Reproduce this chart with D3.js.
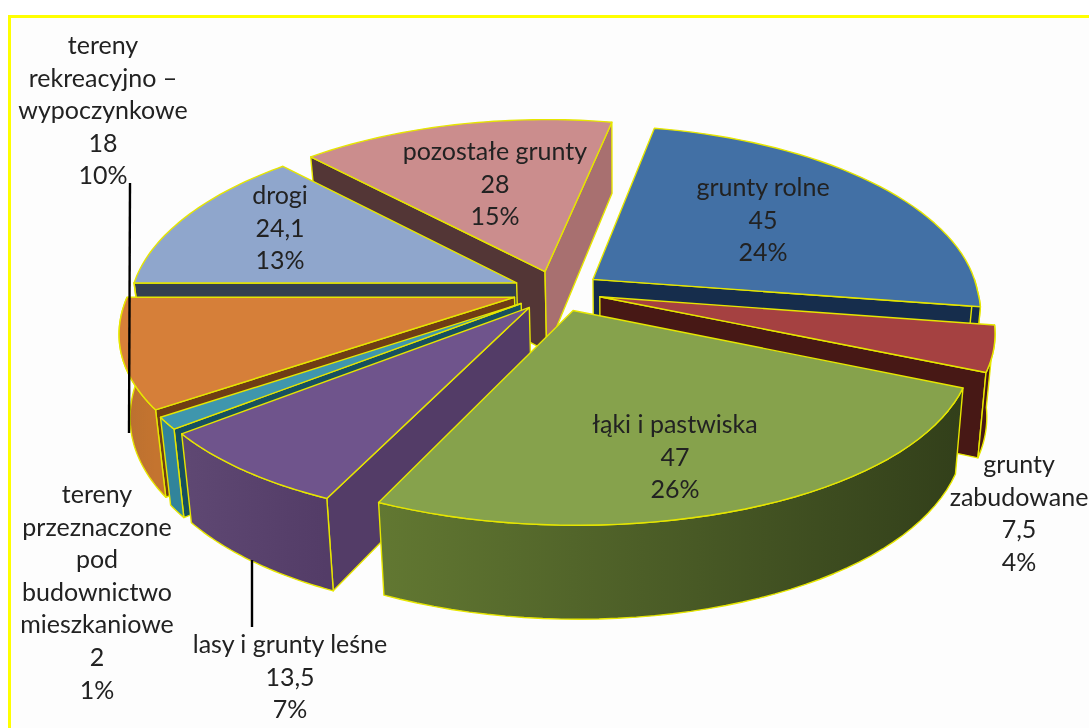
<!DOCTYPE html>
<html>
<head>
<meta charset="utf-8">
<script src="https://cdnjs.cloudflare.com/ajax/libs/d3/7.8.5/d3.min.js"></script>
<style>
  html, body { margin: 0; padding: 0; background: #fff; overflow: hidden; }
  svg { filter: blur(0.45px); }
  text { font-family: Lato, "Open Sans", sans-serif; font-size: 25px; fill: #222; text-anchor: middle; }
</style>
</head>
<body>
<svg id="chart" width="1089" height="728"></svg>
<script>
// data
const categories = ["grunty rolne", "grunty zabudowane", "łąki i pastwiska", "lasy i grunty leśne",
    "tereny przeznaczone pod budownictwo mieszkaniowe", "tereny rekreacyjno – wypoczynkowe", "drogi", "pozostałe grunty"];
const values = [45, 7.5, 47, 13.5, 2, 18, 24.1, 28];
const shares = ["24%", "4%", "26%", "7%", "1%", "10%", "13%", "15%"];

// how each category name wraps in its label
const labelLines = [
    ["grunty rolne"], ["grunty", "zabudowane"], ["łąki i pastwiska"], ["lasy i grunty leśne"],
    ["tereny", "przeznaczone", "pod", "budownictwo", "mieszkaniowe"],
    ["tereny", "rekreacyjno –", "wypoczynkowe"], ["drogi"], ["pozostałe grunty"]
];

// slice colours: top face, the two cut walls, outer wall left and right
const topColors = ["#4270a5", "#a54141", "#86a24c", "#6f548c", "#3f96ad", "#d67f39", "#8fa6cc", "#cb8d8d"];
const startCut = ["#162d4c", "#471815", "#33401c", "#533c67", "#17505f", "#6f3d14", "#333f50", "#533636"];
const endCut = ["#162d4c", "#471815", "#33401c", "#533c67", "#17505f", "#6f3d14", "#333f50", "#a87070"];
const wallLeft = ["#162d4c", "#471815", "#627832", "#5f4873", "#31849b", "#b96f30", "#5f7090", "#a87070"];
const wallRight = ["#162d4c", "#471815", "#323f1a", "#533c67", "#31849b", "#c4742f", "#5f7090", "#a87070"];

// layout of labels: centre x, centre y of first line
const labelPos = [[763, 188], [1019, 465], [675, 425], [290, 645], [97, 495], [103, 46], [280, 196], [495, 152]];

const drawOrder = [7, 0, 6, 5, 4, 3, 1, 2];

// pie plane to screen, a perspective seen from above
const cx = 557, cy = 291, radiusX = 385, radiusY = 178.5, persp = 0.141, perspNearX = 0.18, explode = 0.115;
const firstAngle = 11.3 * Math.PI / 180;

const project = (u, v) => {
    const w = 1 - persp * v;
    const wx = v > 0 ? 1 - perspNearX * v : w;
    return [cx + radiusX * u / wx, cy + radiusY * v / w];
};

// bottom edge of a point on the top face
const drop = p => {
    const depth = 71 + (p[1] - 122) * 0.057;
    return [p[0] + (620 - p[0]) * 0.022, p[1] + depth];
};

const svg = d3.select("#chart");
const defs = svg.append("defs");
const line = d3.line();
const closed = pts => line(pts) + "Z";

svg.append("rect").attr("x", 9.5).attr("y", 16.5).attr("width", 1200).attr("height", 800)
    .attr("fill", "#fdfdfd").attr("stroke", "#ffff00").attr("stroke-width", 3);

const pie = d3.pie().sort(null).startAngle(firstAngle).endAngle(firstAngle + 2 * Math.PI);
const arcs = pie(values);

const outline = "#e6e600";

const face = (g, pts, fill) => g.append("path")
    .attr("d", closed(pts))
    .attr("fill", fill).attr("stroke", outline).attr("stroke-width", 1.4)
    .attr("stroke-linejoin", "round");

drawOrder.forEach(i => {
    const d = arcs[i];
    const mid = (d.startAngle + d.endAngle) / 2;
    const ou = explode * Math.sin(mid), ov = -explode * Math.cos(mid);

    const apex = project(ou, ov);
    const rimPoint = a => project(ou + Math.sin(a), ov - Math.cos(a));
    const sweep = (a0, a1) => d3.range(0, 41).map(t => rimPoint(a0 + (a1 - a0) * t / 40));
    const rim = sweep(d.startAngle, d.endAngle);

    const g = svg.append("g");

    // cut walls, only those turned towards the viewer
    if (Math.sin(d.startAngle) < 0) {
        const p = rim[0];
        face(g, [apex, p, drop(p), drop(apex)], startCut[i]);
    }
    if (Math.sin(d.endAngle) > 0) {
        const p = rim[rim.length - 1];
        face(g, [apex, p, drop(p), drop(apex)], endCut[i]);
    }

    // outer wall on the near half of the pie
    const from = Math.max(d.startAngle, Math.PI / 2), to = Math.min(d.endAngle, 3 * Math.PI / 2);
    if (from < to) {
        const near = sweep(from, to);
        const xs = d3.extent(near, p => p[0]);
        const grad = defs.append("linearGradient").attr("id", "wall" + i)
            .attr("gradientUnits", "userSpaceOnUse")
            .attr("x1", xs[0]).attr("x2", xs[1]).attr("y1", 0).attr("y2", 0);
        grad.append("stop").attr("offset", 0).attr("stop-color", wallLeft[i]);
        grad.append("stop").attr("offset", 1).attr("stop-color", wallRight[i]);
        face(g, near.concat(near.map(drop).reverse()), "url(#wall" + i + ")");
    }

    // top face
    face(g, [apex].concat(rim), topColors[i]);
});

// leader lines
const leaders = [[[130, 183], [129, 433]], [[252, 560], [252, 627]]];
leaders.forEach(l => {
    svg.append("path").attr("d", line(l)).attr("stroke", "#000").attr("stroke-width", 2.4).attr("fill", "none");
});

// labels
const fmt = d3.formatLocale({ decimal: ",", thousands: " ", grouping: [3], currency: ["", ""] }).format(",~f");
const lineStep = 32.6;
categories.forEach((c, i) => {
    const lines = labelLines[i].concat([fmt(values[i]), shares[i]]);
    const t = svg.append("text").attr("transform", "translate(" + labelPos[i][0] + "," + (labelPos[i][1] + 8) + ")");
    lines.forEach((s, k) => {
        t.append("tspan").attr("x", 0).attr("y", k * lineStep).text(s);
    });
});
</script>
</body>
</html>
